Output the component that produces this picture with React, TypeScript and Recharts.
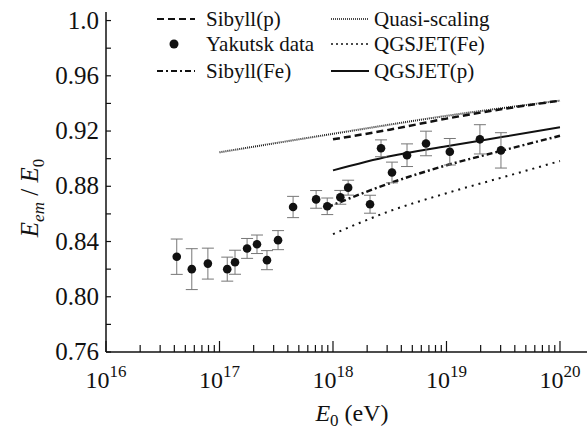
import React from 'react';
import { ComposedChart, Line, Scatter, ErrorBar, XAxis, YAxis } from 'recharts';

// Yakutsk measurements
const energies = [4.2e16, 5.7e16, 7.9e16, 1.17e17, 1.37e17, 1.75e17, 2.14e17, 2.62e17, 3.28e17, 4.45e17, 7.1e17, 8.9e17, 1.16e18, 1.36e18, 2.12e18, 2.65e18, 3.31e18, 4.49e18, 6.6e18, 1.07e19, 1.97e19, 3.02e19];
const ratios = [0.829, 0.82, 0.824, 0.82, 0.825, 0.835, 0.838, 0.8265, 0.841, 0.865, 0.8705, 0.8655, 0.872, 0.879, 0.867, 0.9075, 0.89, 0.9025, 0.911, 0.905, 0.914, 0.906];
const errors = [0.0128, 0.0148, 0.0112, 0.0087, 0.0087, 0.0072, 0.0067, 0.0069, 0.0069, 0.0077, 0.0064, 0.006, 0.005, 0.0054, 0.0065, 0.0061, 0.0075, 0.0082, 0.0089, 0.0096, 0.0106, 0.0128];

// model curves
const modelE = [1e18, 3.16e18, 1e19, 3.16e19, 1e20];
const sibyllP = [0.914, 0.921, 0.929, 0.936, 0.942];
const qgsjetP = [0.8915, 0.9017, 0.909, 0.9158, 0.9227];
const qgsjetFe = [0.8453, 0.862, 0.875, 0.8866, 0.8983];
const sibyllFeE = [8.9e17, 3.16e18, 1e19, 3.16e19, 1e20];
const sibyllFe = [0.8648, 0.8822, 0.8952, 0.906, 0.9166];
const quasiE = [1e17, 1e18, 1e19, 1e20];
const quasiScaling = [0.9046, 0.918, 0.931, 0.942];

const xTicks = [16, 17, 18, 19].flatMap((p) => [1, 2, 3, 4, 5, 6, 7, 8, 9].map((m) => m * 10 ** p)).concat([1e20]);
const yTicks = [0.76, 0.78, 0.8, 0.82, 0.84, 0.86, 0.88, 0.9, 0.92, 0.94, 0.96, 0.98, 1.0];
const yLabels = [0.76, 0.8, 0.84, 0.88, 0.92, 0.96, 1.0];

const FONT = 'Liberation Serif, Tinos, Times New Roman, Times, DejaVu Serif, serif';
const INK = '#111';

const pts = (xs: number[], ys: number[]) => xs.map((e, i) => ({ e, v: ys[i] }));
const yakutsk = energies.map((e, i) => ({ e, v: ratios[i], err: errors[i] }));

function XTick(props: any) {
  const { x, y, payload } = props;
  const lg = Math.log10(payload.value);
  const major = Math.abs(lg - Math.round(lg)) < 1e-6;
  return (
    <g>
      <line x1={x} x2={x} y1={y} y2={y - (major ? 11 : 7)} stroke={INK} strokeWidth={1.2} />
      {major && (
        <text x={x} y={y + 36} textAnchor="middle" style={{ fontFamily: FONT }} fontSize={24} fill={INK}>
          10<tspan fontSize={17} dy={-11}>{Math.round(lg)}</tspan>
        </text>
      )}
    </g>
  );
}

function YTick(props: any) {
  const { x, y, payload } = props;
  const lab = yLabels.some((l) => Math.abs(l - payload.value) < 1e-6);
  const txt = payload.value === 1 ? '1.0' : payload.value.toFixed(2);
  return (
    <g>
      <line x1={x} x2={x + 5} y1={y} y2={y} stroke={INK} strokeWidth={1.2} />
      {lab && (
        <text x={x - 7} y={y + 8} textAnchor="end" style={{ fontFamily: FONT }} fontSize={25} fill={INK}>
          {txt}
        </text>
      )}
    </g>
  );
}

const legendText: React.CSSProperties = { position: 'absolute', fontFamily: FONT, fontSize: 21, lineHeight: '20px', color: INK, whiteSpace: 'nowrap' };

function Sym({ left, top, dash, width = 2 }: { left: number; top: number; dash?: string; width?: number }) {
  return (
    <svg style={{ position: 'absolute', left, top: top - 4 }} width={38} height={8}>
      <line x1={0} x2={38} y1={4} y2={4} stroke={INK} strokeWidth={width} strokeDasharray={dash} />
    </svg>
  );
}

function ChartLegend() {
  const rows = [19, 44, 71];
  return (
    <div style={{ position: 'absolute', left: 0, top: 0, width: 587, height: 90, pointerEvents: 'none' }}>
      <Sym left={157} top={rows[0]} dash="7 4" width={2} />
      <span style={{ ...legendText, left: 206, top: rows[0] - 10 }}>Sibyll(p)</span>
      <svg style={{ position: 'absolute', left: 168, top: rows[1] - 6 }} width={12} height={12}>
        <circle cx={6} cy={6} r={4.5} fill={INK} />
      </svg>
      <span style={{ ...legendText, left: 206, top: rows[1] - 10 }}>Yakutsk data</span>
      <Sym left={157} top={rows[2]} dash="6 3 2 3" width={2} />
      <span style={{ ...legendText, left: 206, top: rows[2] - 10 }}>Sibyll(Fe)</span>
      <Sym left={331} top={rows[0]} dash="1 1" width={1.5} />
      <span style={{ ...legendText, left: 374, top: rows[0] - 10 }}>Quasi-scaling</span>
      <Sym left={331} top={rows[1]} dash="2 3" width={1.5} />
      <span style={{ ...legendText, left: 374, top: rows[1] - 10 }}>QGSJET(Fe)</span>
      <Sym left={331} top={rows[2]} width={1.8} />
      <span style={{ ...legendText, left: 374, top: rows[2] - 10 }}>QGSJET(p)</span>
    </div>
  );
}

export default function App() {
  return (
    <div style={{ position: 'absolute', left: 0, top: 0, width: 587, height: 433, background: '#fff' }}>
      <ComposedChart width={587} height={433} margin={{ top: 12, right: 0, bottom: 0, left: 0 }}>
        <XAxis
          dataKey="e"
          type="number"
          scale="log"
          domain={[1e16, 1.73e20]}
          allowDataOverflow
          ticks={xTicks}
          interval={0}
          tick={<XTick />}
          tickSize={0}
          tickMargin={0}
          tickLine={false}
          axisLine={{ stroke: INK, strokeWidth: 1.5 }}
          height={81}
          label={{
            content: () => (
              <text x={352} y={421} textAnchor="middle" style={{ fontFamily: FONT }} fontSize={24} fill={INK}>
                <tspan fontStyle="italic">E</tspan>
                <tspan fontSize={17} dy={5}>0</tspan>
                <tspan dy={-5}> (eV)</tspan>
              </text>
            ),
          }}
        />
        <XAxis xAxisId="top" orientation="top" type="number" scale="log" domain={[1e16, 1.73e20]} allowDataOverflow height={0} tick={false} tickLine={false} axisLine={{ stroke: INK, strokeWidth: 1.5 }} />
        <YAxis
          dataKey="v"
          type="number"
          domain={[0.76, 1.0062]}
          allowDataOverflow
          ticks={yTicks}
          interval={0}
          tick={<YTick />}
          tickSize={0}
          tickMargin={0}
          tickLine={false}
          axisLine={{ stroke: INK, strokeWidth: 1.5 }}
          width={106}
          label={{
            content: () => (
              <text transform="translate(38,198) rotate(-90)" textAnchor="middle" style={{ fontFamily: FONT }} fontSize={25} fill={INK}>
                <tspan fontStyle="italic">E</tspan>
                <tspan fontStyle="italic" fontSize={17} dy={6}>em</tspan>
                <tspan dy={-6}> / </tspan>
                <tspan fontStyle="italic">E</tspan>
                <tspan fontSize={17} dy={6}>0</tspan>
              </text>
            ),
          }}
        />
        <Line data={pts(quasiE, quasiScaling)} dataKey="v" type="monotone" dot={false} stroke="#222" strokeWidth={2} strokeDasharray="1 1" isAnimationActive={false} />
        <Line data={pts(modelE, sibyllP)} dataKey="v" type="monotone" dot={false} stroke={INK} strokeWidth={2.5} strokeDasharray="7 4" isAnimationActive={false} />
        <Line data={pts(modelE, qgsjetP)} dataKey="v" type="monotone" dot={false} stroke={INK} strokeWidth={2} isAnimationActive={false} />
        <Line data={pts(sibyllFeE, sibyllFe)} dataKey="v" type="monotone" dot={false} stroke={INK} strokeWidth={2.5} strokeDasharray="6 3 2 3" isAnimationActive={false} />
        <Line data={pts(modelE, qgsjetFe)} dataKey="v" type="monotone" dot={false} stroke={INK} strokeWidth={2} strokeDasharray="2 5" isAnimationActive={false} />
        <Scatter
          data={yakutsk}
          dataKey="v"
          isAnimationActive={false}
          shape={(p: any) => <circle cx={p.cx} cy={p.cy} r={4.3} fill={INK} />}
        >
          <ErrorBar dataKey="err" direction="y" width={6} stroke="#777" strokeWidth={1} isAnimationActive={false} />
        </Scatter>
      </ComposedChart>
      <ChartLegend />
    </div>
  );
}
